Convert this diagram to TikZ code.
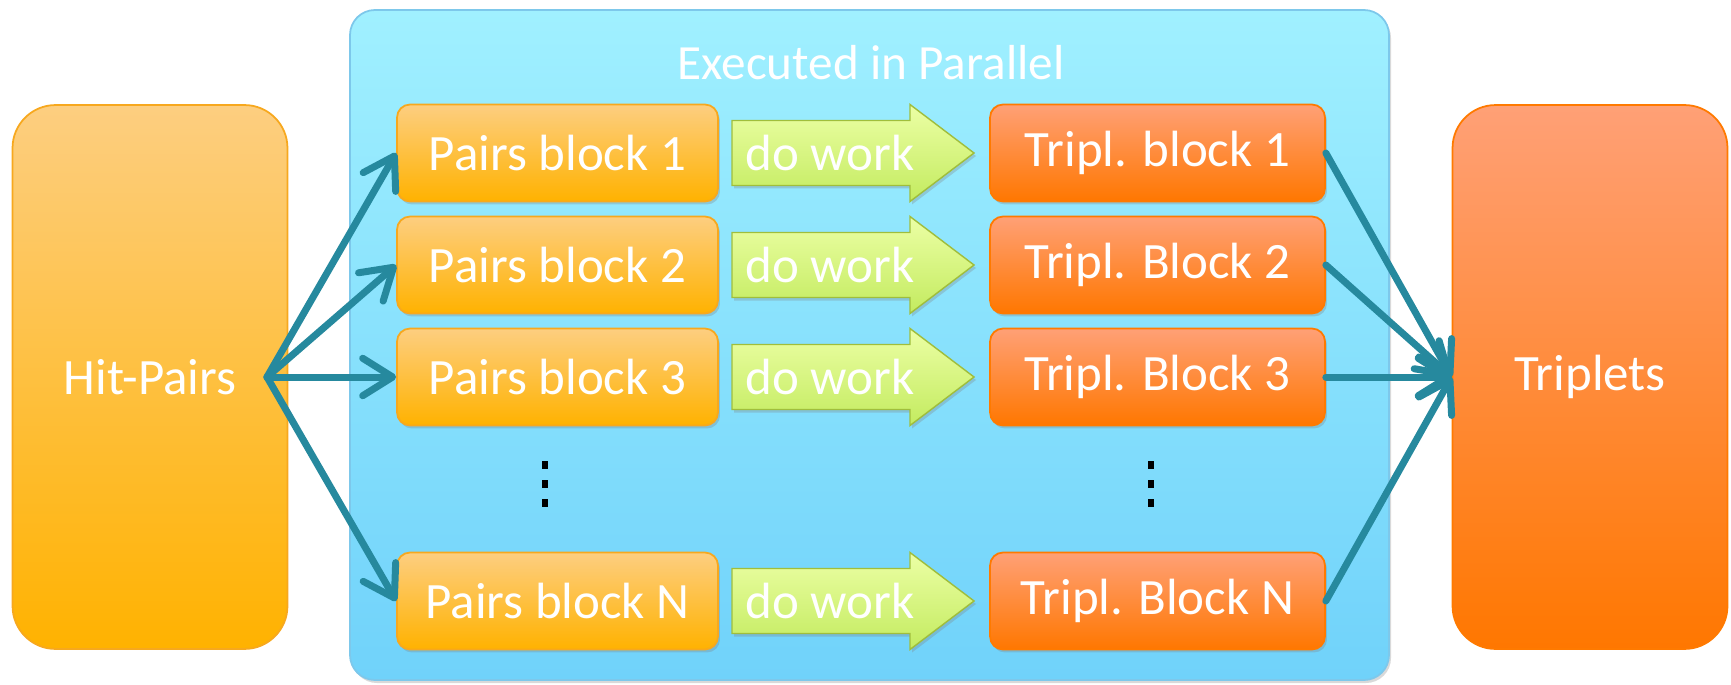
\documentclass[tikz,border=0pt]{standalone}
\usepackage{fontspec}
\setmainfont{Carlito}
\usepackage{tikz}
\usetikzlibrary{arrows.meta,shadows}

\definecolor{pairtop}{RGB}{253,206,128}
\definecolor{pairbot}{RGB}{255,178,0}
\definecolor{pairline}{RGB}{247,168,30}
\definecolor{tripltop}{RGB}{255,160,118}
\definecolor{triplbot}{RGB}{255,119,0}
\definecolor{tripline}{RGB}{255,122,0}
\definecolor{bluetop}{RGB}{160,240,255}
\definecolor{bluebot}{RGB}{112,210,250}
\definecolor{blueline}{RGB}{125,200,235}
\definecolor{worktop}{RGB}{236,255,165}
\definecolor{workbot}{RGB}{195,235,95}
\definecolor{workline}{RGB}{160,190,60}
\definecolor{connteal}{RGB}{38,137,158}

\begin{document}
\begin{tikzpicture}[x=0.02cm, y=0.02cm,
    every node/.style={text=white, font=\fontsize{29}{34}\selectfont},
    shade/.style={drop shadow={shadow xshift=0.04cm, shadow yshift=-0.06cm, opacity=0.3}},
    bigbox/.style={draw=blueline, line width=1pt, rounded corners=0.5cm, top color=bluetop, bottom color=bluebot, shade},
    endbox/.style={line width=1pt, rounded corners=0.86cm, minimum width=5.5cm, minimum height=10.88cm, inner sep=0pt},
    pairbox/.style={draw=pairline, line width=1pt, rounded corners=0.26cm, top color=pairtop, bottom color=pairbot, minimum width=6.42cm, minimum height=1.94cm, inner sep=0pt, shade},
    triplbox/.style={draw=tripline, line width=1pt, rounded corners=0.26cm, top color=tripltop, bottom color=triplbot, minimum width=6.7cm, minimum height=1.94cm, inner sep=0pt, shade},
    workarrow/.style={draw=workline, line width=0.8pt, top color=worktop, bottom color=workbot, shade},
    conn/.style={draw=connteal, line width=0.14cm, line cap=round, -{Straight Barb[length=0.6cm, width=0.75cm, round]}}
  ]
    \useasboundingbox (0,0) rectangle (1731,684);

    % parallel region
    \path[bigbox] (350,4) rectangle (1389,674);
    \node (title) at (871,621) {\fontsize{28}{33}\selectfont Executed in Parallel};

    % input and output
    \node[endbox, draw=pairline, top color=pairtop, bottom color=pairbot] (hitpairs) at (150,307) {Hit-Pairs};
    \node[endbox, draw=tripline, top color=tripltop, bottom color=triplbot] (triplets) at (1590,307) {Triplets};

    % blocks
    \foreach \i/\y/\n/\b in {1/531/1/block, 2/419/2/Block, 3/307/3/Block, 4/83/N/Block} {
      \node[pairbox] (pair\i) at (557.5,\y) {Pairs block \n};
      \filldraw[workarrow] (732,\y-32.5) -- (910,\y-32.5) -- (910,\y-48.5) -- (974,\y)
        -- (910,\y+48.5) -- (910,\y+32.5) -- (732,\y+32.5) -- cycle;
      \node (work\i) at (830,\y) {do work};
      \node[triplbox] (tripl\i) at (1157.5,\y) {Tripl. \b\ \n};
    }

    % dots
    \foreach \x in {545,1151}
      \foreach \y in {181,200,219}
        \fill[black] (\x-3,\y-4) rectangle (\x+3,\y+4);

    % connectors
    \coordinate (hpout) at (267,307);
    \foreach \i in {1,...,4} {
      \draw[conn] (hpout) -- (pair\i.west);
      \draw[conn] (tripl\i.east) -- (triplets.west);
    }
  \end{tikzpicture}
\end{document}
